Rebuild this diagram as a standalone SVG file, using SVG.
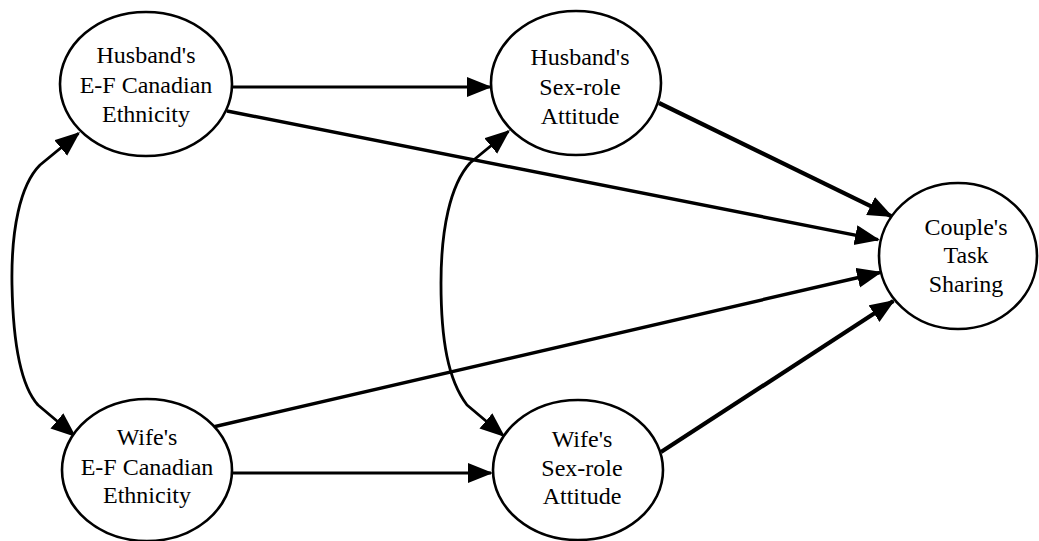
<svg xmlns="http://www.w3.org/2000/svg" width="1039" height="541" viewBox="0 0 1039 541">
  <style>
    .node ellipse { fill: #fff; stroke: #000; stroke-width: 2.6; }
    .node text { font-family: "Liberation Serif", "Times New Roman", serif; font-size: 24px; fill: #000; text-anchor: middle; }
    .edge { fill: none; stroke: #000; stroke-linecap: butt; stroke-linejoin: round; }
    .thin { stroke-width: 2.8; }
    .mid { stroke-width: 3.4; }
    .thick { stroke-width: 4.2; }
  </style>
  <defs>
    <marker id="arrow" markerUnits="userSpaceOnUse" markerWidth="26" markerHeight="22" refX="23" refY="10" orient="auto-start-reverse">
      <path d="M0,0 L25,10 L0,20 z" fill="#000"/>
    </marker>
  </defs>
  <rect width="1039" height="541" fill="#fff"/>

  <g id="connectors">
    <!-- direct paths -->
    <line class="edge thin" x1="232" y1="87" x2="490" y2="87" marker-end="url(#arrow)"/>
    <line class="edge thin" x1="232" y1="473" x2="491" y2="473" marker-end="url(#arrow)"/>
    <line class="edge mid" x1="227" y1="111" x2="878" y2="239.6" marker-end="url(#arrow)"/>
    <line class="edge thick" x1="659" y1="103" x2="891.2" y2="216.1" marker-end="url(#arrow)"/>
    <line class="edge mid" x1="213" y1="427" x2="880.1" y2="272.5" marker-end="url(#arrow)"/>
    <line class="edge thick" x1="661" y1="452" x2="893.3" y2="301.1" marker-end="url(#arrow)"/>
    <!-- correlations (double-headed) -->
    <path class="edge thin" d="M78.5,133.3 L40,165 C20,185 11,230 12,285 C13,340 20,385 38,405 L74.5,435.7" marker-start="url(#arrow)" marker-end="url(#arrow)"/>
    <path class="edge thin" d="M508.5,131.3 L470,163 C450,185 441,230 441,283 C441,340 448,380 467,405 L503.5,435.7" marker-start="url(#arrow)" marker-end="url(#arrow)"/>
  </g>

  <g id="husband-ethnicity" class="node">
    <ellipse cx="146" cy="84" rx="86" ry="72"/>
    <text x="146" y="63">Husband's</text>
    <text x="146" y="93">E-F Canadian</text>
    <text x="146" y="122">Ethnicity</text>
  </g>

  <g id="husband-attitude" class="node">
    <ellipse cx="576" cy="83" rx="85" ry="72"/>
    <text x="580" y="65">Husband's</text>
    <text x="580" y="95">Sex-role</text>
    <text x="580" y="124">Attitude</text>
  </g>

  <g id="wife-ethnicity" class="node">
    <ellipse cx="147" cy="470" rx="85" ry="71"/>
    <text x="147" y="445">Wife's</text>
    <text x="147" y="475">E-F Canadian</text>
    <text x="147" y="503">Ethnicity</text>
  </g>

  <g id="wife-attitude" class="node">
    <ellipse cx="578" cy="470" rx="85" ry="70"/>
    <text x="582" y="447">Wife's</text>
    <text x="582" y="476">Sex-role</text>
    <text x="582" y="504">Attitude</text>
  </g>

  <g id="task-sharing" class="node">
    <ellipse cx="958" cy="256" rx="79" ry="73"/>
    <text x="966" y="235">Couple's</text>
    <text x="966" y="263">Task</text>
    <text x="966" y="292">Sharing</text>
  </g>
</svg>
